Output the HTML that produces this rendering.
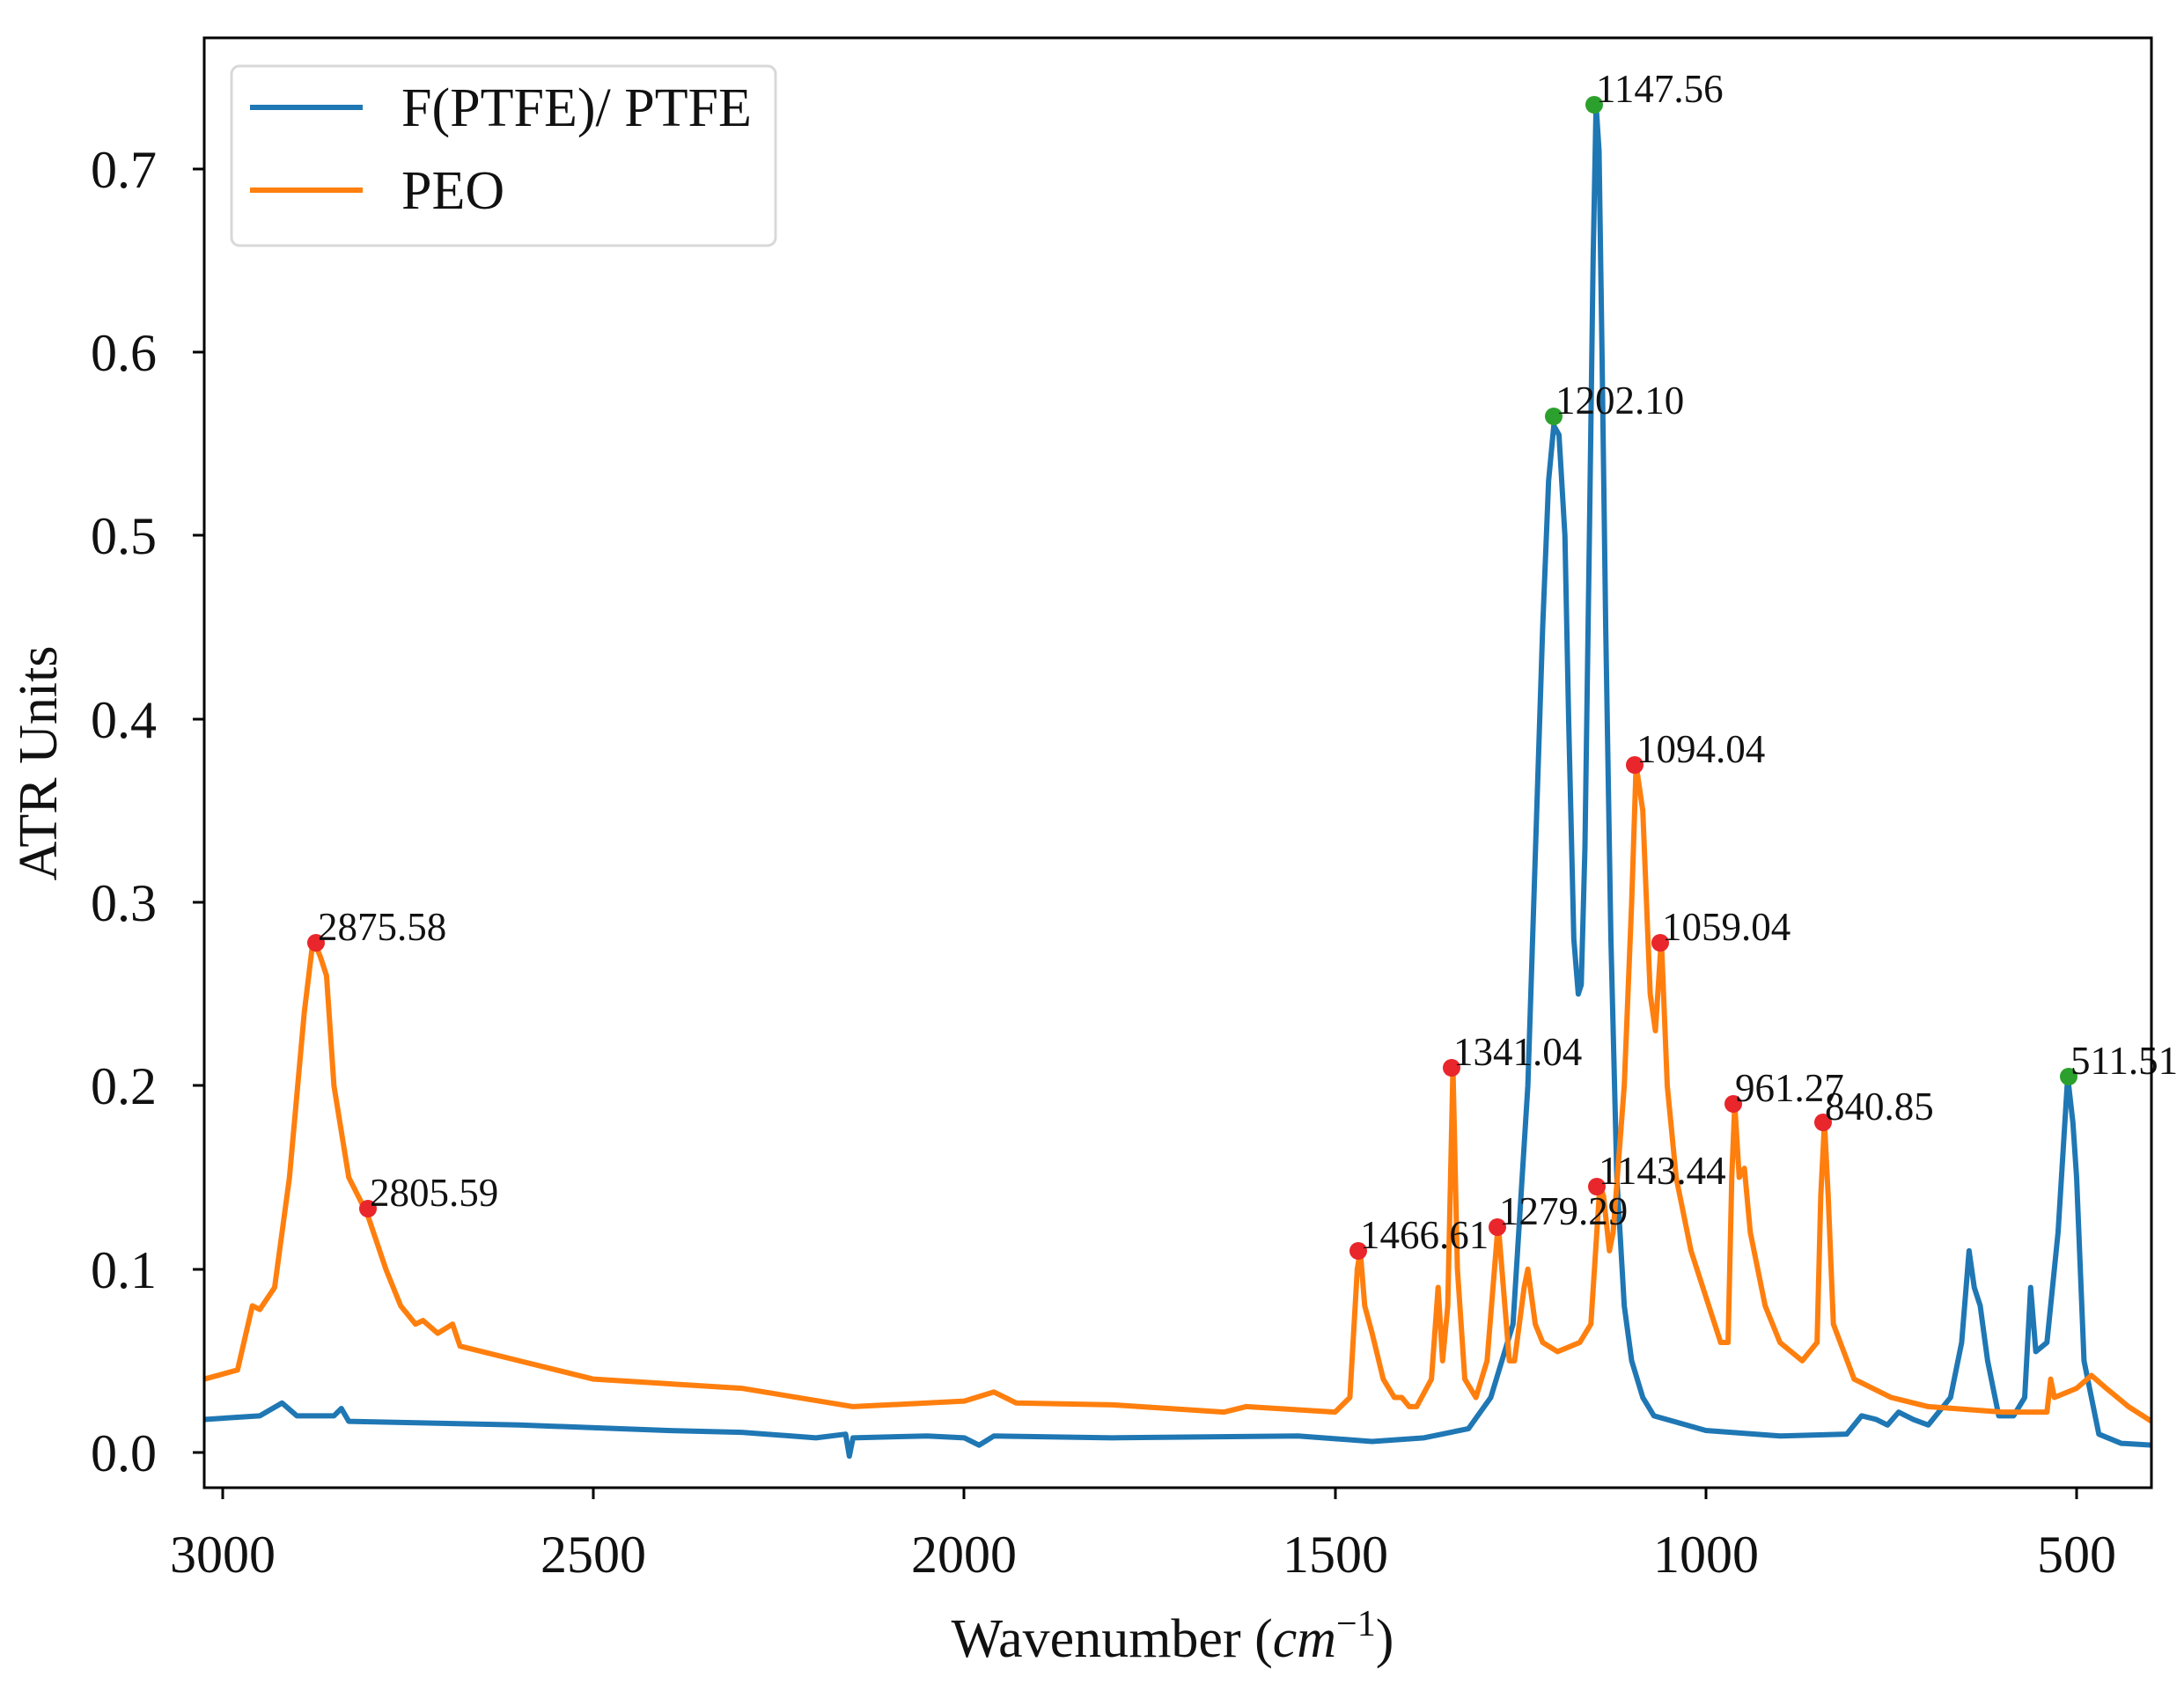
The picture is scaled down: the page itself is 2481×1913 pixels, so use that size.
<!DOCTYPE html>
<html><head><meta charset="utf-8"><style>html,body{margin:0;padding:0;background:#fff}svg{display:block}text{font-family:"Liberation Serif",serif;fill:#111}</style></head>
<body>
<svg width="2481" height="1913" viewBox="0 0 2481 1913" xmlns="http://www.w3.org/2000/svg">
<defs><clipPath id="c"><rect x="232" y="43" width="2212" height="1647"/></clipPath></defs>
<g clip-path="url(#c)" fill="none" stroke-linejoin="round">
<g transform="matrix(-0.8424,0,0,-2083,2780.2,1650)">
<polyline vector-effect="non-scaling-stroke" stroke="#1f77b4" stroke-width="6" points="3025,0.018 2950,0.02 2920,0.027 2900,0.02 2850,0.02 2840,0.024 2830,0.017 2600,0.015 2400,0.012 2300,0.011 2200,0.008 2160,0.01 2155,-0.002 2150,0.008 2050,0.009 2000,0.008 1980,0.004 1960,0.009 1800,0.008 1550,0.009 1450,0.006 1380,0.008 1320,0.013 1290,0.03 1260,0.07 1240,0.2 1220,0.45 1212,0.53 1205,0.56 1198,0.555 1190,0.5 1185,0.4 1178,0.28 1172,0.25 1168,0.255 1163,0.33 1157,0.5 1152,0.65 1148,0.735 1144,0.71 1140,0.6 1135,0.45 1128,0.28 1120,0.15 1110,0.08 1100,0.05 1085,0.03 1070,0.02 1000,0.012 900,0.009 810,0.01 790,0.02 770,0.018 755,0.015 740,0.022 720,0.018 700,0.015 670,0.03 655,0.06 645,0.11 638,0.09 630,0.08 620,0.05 605,0.02 585,0.02 570,0.03 562,0.09 555,0.055 540,0.06 525,0.12 512,0.205 505,0.18 500,0.15 490,0.05 470,0.01 440,0.005 399,0.004"/>
<polyline vector-effect="non-scaling-stroke" stroke="#ff7f0e" stroke-width="6" points="3025,0.04 2980,0.045 2960,0.08 2950,0.078 2930,0.09 2910,0.15 2890,0.24 2878,0.28 2868,0.27 2860,0.26 2850,0.2 2830,0.15 2805,0.13 2780,0.1 2760,0.08 2740,0.07 2730,0.072 2710,0.065 2690,0.07 2680,0.058 2600,0.05 2500,0.04 2300,0.035 2150,0.025 2000,0.028 1960,0.033 1930,0.027 1800,0.026 1650,0.022 1620,0.025 1500,0.022 1480,0.03 1470,0.1 1466,0.11 1460,0.08 1450,0.065 1435,0.04 1420,0.03 1410,0.03 1400,0.025 1390,0.025 1370,0.04 1361,0.09 1355,0.05 1348,0.08 1341,0.21 1335,0.1 1325,0.04 1310,0.03 1295,0.05 1280,0.125 1275,0.1 1265,0.05 1258,0.05 1245,0.09 1240,0.1 1230,0.07 1220,0.06 1200,0.055 1170,0.06 1155,0.07 1143,0.145 1138,0.14 1130,0.11 1125,0.12 1110,0.2 1100,0.3 1094,0.375 1085,0.35 1075,0.25 1068,0.23 1060,0.28 1052,0.2 1040,0.15 1020,0.11 1000,0.085 980,0.06 970,0.06 965,0.15 961,0.19 955,0.15 948,0.155 940,0.12 920,0.08 900,0.06 870,0.05 850,0.06 845,0.14 840,0.18 835,0.14 828,0.07 800,0.04 750,0.03 700,0.025 600,0.022 540,0.022 535,0.04 530,0.03 500,0.035 480,0.042 460,0.035 430,0.025 399,0.017"/>
</g>
</g>
<g stroke="none">
<g fill="#e8262b">
<circle cx="359" cy="1071" r="10"/><circle cx="418" cy="1373" r="10"/><circle cx="1543" cy="1421" r="10"/><circle cx="1649" cy="1213" r="10"/><circle cx="1701" cy="1394" r="10"/><circle cx="1814" cy="1348" r="10"/><circle cx="1857" cy="869" r="10"/><circle cx="1886" cy="1071" r="10"/><circle cx="1969" cy="1254" r="10"/><circle cx="2071" cy="1275" r="10"/>
</g>
<g fill="#2ca02c"><circle cx="1811" cy="119" r="10"/><circle cx="1765" cy="473" r="10"/><circle cx="2350" cy="1223" r="10"/></g>
</g>
<g font-size="45">
<text x="361" y="1068">2875.58</text><text x="420" y="1370">2805.59</text><text x="1545" y="1418">1466.61</text><text x="1651" y="1210">1341.04</text><text x="1703" y="1391">1279.29</text><text x="1816" y="1345">1143.44</text><text x="1859" y="866">1094.04</text><text x="1888" y="1068">1059.04</text><text x="1971" y="1251">961.27</text><text x="2073" y="1272">840.85</text><text x="1813" y="116">1147.56</text><text x="1767" y="470">1202.10</text><text x="2352" y="1220">511.51</text>
</g>
<rect x="232" y="43" width="2212" height="1647" fill="none" stroke="#000" stroke-width="3"/>
<g stroke="#000" stroke-width="3">
<line x1="253" y1="1690" x2="253" y2="1703"/><line x1="674" y1="1690" x2="674" y2="1703"/><line x1="1095" y1="1690" x2="1095" y2="1703"/><line x1="1517" y1="1690" x2="1517" y2="1703"/><line x1="1938" y1="1690" x2="1938" y2="1703"/><line x1="2359" y1="1690" x2="2359" y2="1703"/>
<line x1="219" y1="1650" x2="232" y2="1650"/><line x1="219" y1="1442" x2="232" y2="1442"/><line x1="219" y1="1233" x2="232" y2="1233"/><line x1="219" y1="1025" x2="232" y2="1025"/><line x1="219" y1="817" x2="232" y2="817"/><line x1="219" y1="608" x2="232" y2="608"/><line x1="219" y1="400" x2="232" y2="400"/><line x1="219" y1="192" x2="232" y2="192"/>
</g>
<g font-size="60" text-anchor="middle">
<text x="253" y="1786">3000</text><text x="674" y="1786">2500</text><text x="1095" y="1786">2000</text><text x="1517" y="1786">1500</text><text x="1938" y="1786">1000</text><text x="2359" y="1786">500</text>
</g>
<g font-size="60" text-anchor="end">
<text x="178" y="1671">0.0</text><text x="178" y="1463">0.1</text><text x="178" y="1254">0.2</text><text x="178" y="1046">0.3</text><text x="178" y="838">0.4</text><text x="178" y="629">0.5</text><text x="178" y="421">0.6</text><text x="178" y="213">0.7</text>
</g>
<text x="1332" y="1882" font-size="62" text-anchor="middle">Wavenumber (<tspan font-style="italic">cm</tspan><tspan font-size="42" dy="-24">−1</tspan><tspan dy="24">)</tspan></text>
<text transform="translate(64,867) rotate(-90)" font-size="62" text-anchor="middle">ATR Units</text>
<rect x="263" y="75" width="618" height="204" rx="9" fill="#fff" fill-opacity="0.8" stroke="#d8d8d8" stroke-width="3"/>
<line x1="284" y1="122" x2="412" y2="122" stroke="#1f77b4" stroke-width="6"/>
<line x1="284" y1="216" x2="412" y2="216" stroke="#ff7f0e" stroke-width="6"/>
<text x="456" y="143" font-size="62">F(PTFE)/ PTFE</text>
<text x="456" y="237" font-size="62">PEO</text>
</svg>
</body></html>
